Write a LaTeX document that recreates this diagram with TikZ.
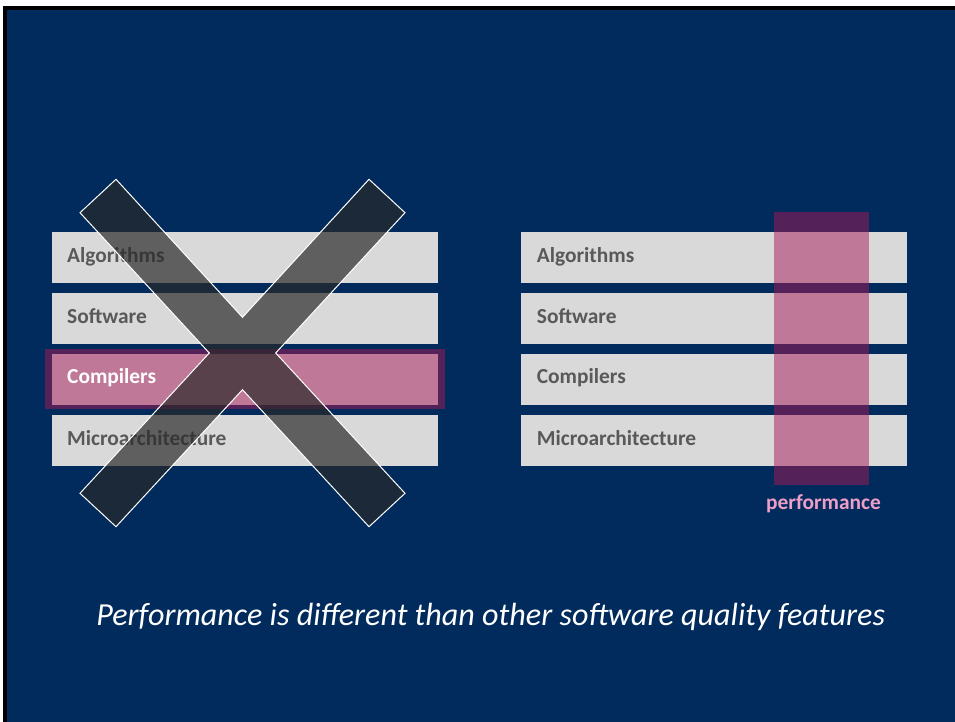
\documentclass[tikz,border=0pt]{standalone}
\usepackage{fontspec}
\setmainfont{Carlito}
\begin{document}
\begin{tikzpicture}[x=1pt,y=-1pt,
  bar/.style={fill=bargray,draw=none,minimum width=386pt,minimum height=50.5pt,inner sep=0pt,anchor=north west},
  lbl/.style={anchor=base west,inner sep=0pt,font=\fontsize{21.4}{24}\selectfont\bfseries,text=lblgray},
  overlay/.style={fill=magentaov,fill opacity=0.5,draw=none,inner sep=0pt,anchor=north west},
  xmark/.style={fill=xdark,fill opacity=0.69,draw=white,line width=1pt,line join=miter}
]
\definecolor{bgblue}{HTML}{002B5C}
\definecolor{bargray}{HTML}{D9D9D9}
\definecolor{lblgray}{HTML}{595959}
\definecolor{magentaov}{HTML}{A81858}
\definecolor{xdark}{HTML}{2A2929}
\definecolor{perfpink}{HTML}{EE9EC8}
\useasboundingbox (0,0) rectangle (955,722);
\fill[white] (0,0) rectangle (955,722);
\fill[black] (3,6) rectangle (955,722);
\fill[bgblue] (7,10) rectangle (955,722);
% left stack
\node[bar] (la) at (52,232) {};
\node[bar] (ls) at (52,293) {};
\node[bar] (lc) at (52,354) {};
\node[bar] (lm) at (52,415) {};
\node[overlay,minimum width=400pt,minimum height=60pt] (lhl) at (45,349) {};
\node[lbl] (lta) at (67,262) {Algorithms};
\node[lbl] (lts) at (67,323) {Software};
\node[lbl,text=white] (ltc) at (67,383.5) {Compilers};
\node[lbl] (ltm) at (67,445) {Microarchitecture};
% X mark
\draw[xmark] (116,179.3) -- (242.5,317.3) -- (369,179.3) -- (405,212.7) -- (275.7,353)
  -- (405,493.3) -- (369,526.7) -- (242.5,389.7) -- (116,526.7) -- (80,493.3)
  -- (209.3,353) -- (80,212.7) -- cycle;
% right stack
\node[bar] (ra) at (521,232) {};
\node[bar] (rs) at (521,293) {};
\node[bar] (rc) at (521,354) {};
\node[bar] (rm) at (521,415) {};
\node[lbl] (rta) at (536.7,262) {Algorithms};
\node[lbl] (rts) at (536.7,323) {Software};
\node[lbl] (rtc) at (536.7,383.5) {Compilers};
\node[lbl] (rtm) at (536.7,445) {Microarchitecture};
\node[overlay,minimum width=95pt,minimum height=273pt] (perf) at (774,212) {};
\node[anchor=base,inner sep=0pt,text=perfpink,font=\fontsize{21.4}{24}\selectfont\bfseries] (perflbl) at (823.5,509.3) {performance};
% caption
\node[anchor=base,inner sep=0pt,text=white,font=\fontsize{32.1}{36}\selectfont\itshape] (cap) at (490.7,625) {Performance is different than other software quality features};
\end{tikzpicture}
\end{document}
